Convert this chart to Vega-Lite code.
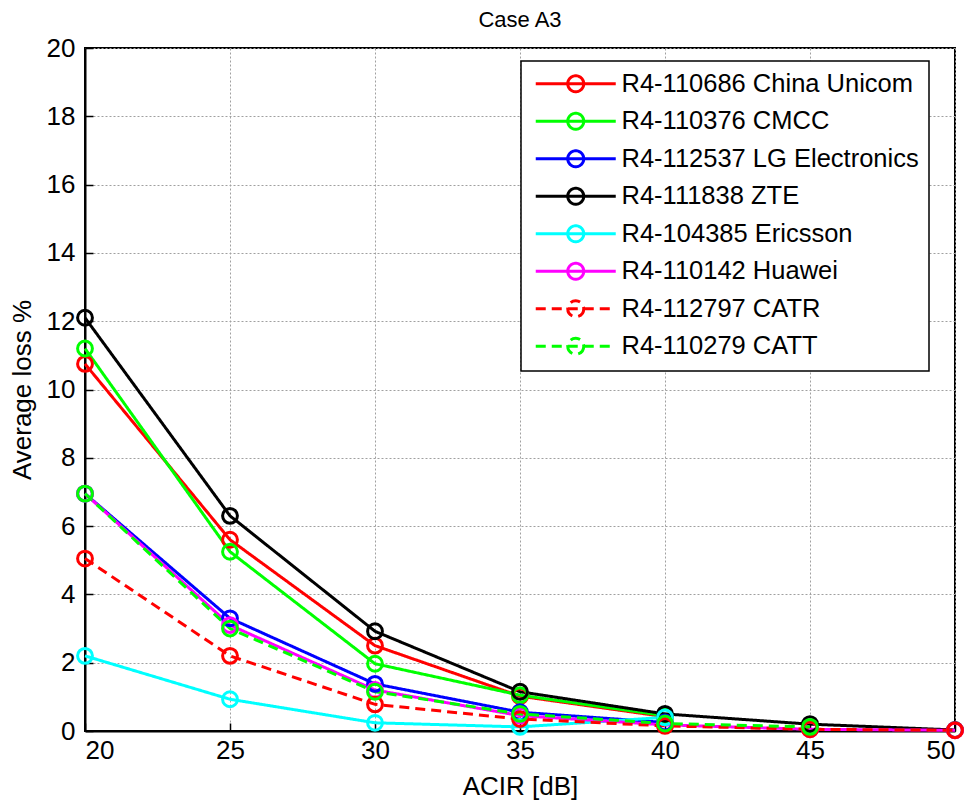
{
  "$schema": "https://vega.github.io/schema/vega-lite/v6.json",
  "width": 870,
  "height": 683,
  "autosize": {"type": "none"},
  "padding": {"left": 85, "top": 48, "right": 15, "bottom": 76},
  "background": "white",
  "config": {
    "font": "Liberation Sans",
    "view": {"stroke": "black", "strokeWidth": 2},
    "axis": {
      "labelFont": "Liberation Sans",
      "titleFont": "Liberation Sans",
      "labelFontSize": 26,
      "titleFontSize": 26,
      "titleFontWeight": "normal",
      "labelColor": "black",
      "titleColor": "black",
      "domainColor": "black",
      "domainWidth": 2,
      "tickColor": "black",
      "tickWidth": 1.5,
      "tickSize": -8,
      "gridColor": "#a0a0a0",
      "gridDash": [2, 2],
      "gridWidth": 1
    },
    "legend": {"strokeWidth": 1.5}
  },
  "title": {
    "text": "Case A3",
    "font": "Liberation Sans",
    "fontSize": 22,
    "fontWeight": "normal",
    "color": "black",
    "anchor": "middle",
    "offset": 3
  },
  "data": {
    "values": [
      {"series": "R4-110686 China Unicom", "x": 20, "y": 10.75},
      {"series": "R4-110686 China Unicom", "x": 25, "y": 5.6},
      {"series": "R4-110686 China Unicom", "x": 30, "y": 2.5},
      {"series": "R4-110686 China Unicom", "x": 35, "y": 1.02},
      {"series": "R4-110686 China Unicom", "x": 40, "y": 0.42},
      {"series": "R4-110376 CMCC", "x": 20, "y": 11.2},
      {"series": "R4-110376 CMCC", "x": 25, "y": 5.25},
      {"series": "R4-110376 CMCC", "x": 30, "y": 1.97},
      {"series": "R4-110376 CMCC", "x": 35, "y": 1.05},
      {"series": "R4-110376 CMCC", "x": 40, "y": 0.45},
      {"series": "R4-112537 LG Electronics", "x": 20, "y": 6.95},
      {"series": "R4-112537 LG Electronics", "x": 25, "y": 3.3},
      {"series": "R4-112537 LG Electronics", "x": 30, "y": 1.38},
      {"series": "R4-112537 LG Electronics", "x": 35, "y": 0.55},
      {"series": "R4-112537 LG Electronics", "x": 40, "y": 0.25},
      {"series": "R4-111838 ZTE", "x": 20, "y": 12.1},
      {"series": "R4-111838 ZTE", "x": 25, "y": 6.3},
      {"series": "R4-111838 ZTE", "x": 30, "y": 2.92},
      {"series": "R4-111838 ZTE", "x": 35, "y": 1.15},
      {"series": "R4-111838 ZTE", "x": 40, "y": 0.5},
      {"series": "R4-111838 ZTE", "x": 45, "y": 0.2},
      {"series": "R4-111838 ZTE", "x": 50, "y": 0.03},
      {"series": "R4-104385 Ericsson", "x": 20, "y": 2.2},
      {"series": "R4-104385 Ericsson", "x": 25, "y": 0.93},
      {"series": "R4-104385 Ericsson", "x": 30, "y": 0.24},
      {"series": "R4-104385 Ericsson", "x": 35, "y": 0.12},
      {"series": "R4-104385 Ericsson", "x": 40, "y": 0.4},
      {"series": "R4-110142 Huawei", "x": 20, "y": 6.95},
      {"series": "R4-110142 Huawei", "x": 25, "y": 3.1},
      {"series": "R4-110142 Huawei", "x": 30, "y": 1.2},
      {"series": "R4-110142 Huawei", "x": 35, "y": 0.45},
      {"series": "R4-110142 Huawei", "x": 40, "y": 0.18},
      {"series": "R4-110142 Huawei", "x": 45, "y": 0.05},
      {"series": "R4-110142 Huawei", "x": 50, "y": 0.02},
      {"series": "R4-112797 CATR", "x": 20, "y": 5.05},
      {"series": "R4-112797 CATR", "x": 25, "y": 2.2},
      {"series": "R4-112797 CATR", "x": 30, "y": 0.78},
      {"series": "R4-112797 CATR", "x": 35, "y": 0.35},
      {"series": "R4-112797 CATR", "x": 40, "y": 0.15},
      {"series": "R4-112797 CATR", "x": 45, "y": 0.05},
      {"series": "R4-112797 CATR", "x": 50, "y": 0.02},
      {"series": "R4-110279 CATT", "x": 20, "y": 6.95},
      {"series": "R4-110279 CATT", "x": 25, "y": 3.0},
      {"series": "R4-110279 CATT", "x": 30, "y": 1.15},
      {"series": "R4-110279 CATT", "x": 35, "y": 0.5},
      {"series": "R4-110279 CATT", "x": 40, "y": 0.22},
      {"series": "R4-110279 CATT", "x": 45, "y": 0.12}
    ]
  },
  "encoding": {
    "x": {
      "field": "x",
      "type": "quantitative",
      "scale": {"domain": [20, 50], "nice": false, "zero": false},
      "axis": {"values": [20, 25, 30, 35, 40, 45, 50], "title": "ACIR [dB]", "labelPadding": 14, "titlePadding": 10}
    },
    "y": {
      "field": "y",
      "type": "quantitative",
      "scale": {"domain": [0, 20], "nice": false},
      "axis": {"values": [0, 2, 4, 6, 8, 10, 12, 14, 16, 18, 20], "title": "Average loss %", "labelPadding": 18, "titlePadding": 11}
    },
    "color": {
      "field": "series",
      "type": "nominal",
      "sort": null,
      "scale": {
        "domain": ["R4-110686 China Unicom", "R4-110376 CMCC", "R4-112537 LG Electronics", "R4-111838 ZTE", "R4-104385 Ericsson", "R4-110142 Huawei", "R4-112797 CATR", "R4-110279 CATT"],
        "range": ["#ff0000", "#00ff00", "#0000ff", "#000000", "#00ffff", "#ff00ff", "#ff0000", "#00ff00"]
      }
    }
  },
  "layer": [
    {
      "mark": {"type": "line", "strokeWidth": 3},
      "encoding": {
        "strokeDash": {
          "field": "series",
          "type": "nominal",
          "scale": {
            "domain": ["R4-110686 China Unicom", "R4-110376 CMCC", "R4-112537 LG Electronics", "R4-111838 ZTE", "R4-104385 Ericsson", "R4-110142 Huawei", "R4-112797 CATR", "R4-110279 CATT"],
            "range": [[1, 0], [1, 0], [1, 0], [1, 0], [1, 0], [1, 0], [10, 6], [10, 6]]
          },
          "legend": {"title": null}
        },
        "color": {
          "field": "series",
          "type": "nominal",
          "legend": {
            "title": null,
            "orient": "none",
            "legendX": 436,
            "legendY": 13,
            "strokeColor": "black",
            "fillColor": "white",
            "padding": 10,
            "symbolType": "M-4,0L4,0M0.8,0A0.8,0.8,0,1,1,-0.8,0A0.8,0.8,0,1,1,0.8,0",
            "symbolSize": 400,
            "symbolOffset": 32,
            "symbolStrokeWidth": 3,
            "symbolFillColor": "transparent",
            "labelFont": "Liberation Sans",
            "labelFontSize": 25.5,
            "labelColor": "black",
            "labelOffset": 33,
            "rowPadding": 8.5,
            "labelLimit": 400
          }
        }
      }
    },
    {
      "mark": {"type": "point", "shape": "circle", "filled": false, "size": 220, "strokeWidth": 3, "opacity": 1},
      "encoding": {
        "color": {"field": "series", "type": "nominal", "legend": null}
      }
    }
  ]
}
